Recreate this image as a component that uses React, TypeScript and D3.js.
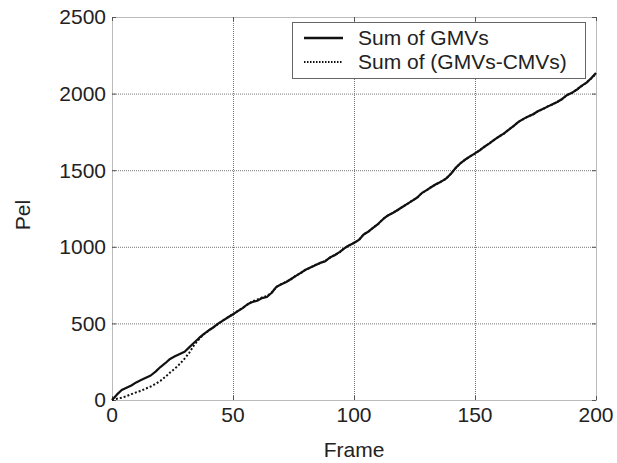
import React, { useRef, useEffect } from 'react';
import * as d3 from 'd3';

// frame numbers (every 2nd frame) and accumulated values in pel
const frames = d3.range(0, 201, 2);

const sumGMV = [
  0, 35, 65, 80, 95, 115, 130, 145, 160, 185,
  215, 240, 268, 285, 300, 315, 345, 375, 405, 432,
  455, 475, 500, 520, 540, 560, 580, 600, 625, 640,
  648, 665, 672, 700, 740, 755, 770, 790, 810, 830,
  850, 865, 880, 895, 905, 930, 945, 965, 990, 1010,
  1025, 1045, 1080, 1100, 1125, 1150, 1180, 1205, 1220, 1240,
  1260, 1280, 1300, 1320, 1350, 1370, 1390, 1410, 1425, 1445,
  1475, 1515, 1545, 1570, 1590, 1610, 1630, 1655, 1675, 1700,
  1720, 1740, 1765, 1790, 1815, 1835, 1850, 1865, 1885, 1900,
  1915, 1930, 1945, 1965, 1990, 2005, 2025, 2050, 2070, 2100,
  2135,
];

const sumGMVminusCMV = [
  0, 8, 15, 25, 38, 50, 60, 75, 88, 105,
  125, 150, 180, 205, 235, 270, 310, 360, 398, 430,
  453, 476, 498, 521, 541, 559, 582, 602, 623, 645,
  655, 670, 678, 702, 738, 756, 772, 788, 812, 828,
  851, 864, 882, 893, 907, 928, 947, 963, 992, 1008,
  1027, 1043, 1082, 1098, 1127, 1148, 1182, 1203, 1222, 1238,
  1262, 1278, 1302, 1318, 1352, 1368, 1392, 1408, 1427, 1443,
  1477, 1513, 1547, 1568, 1592, 1608, 1632, 1653, 1677, 1698,
  1722, 1738, 1767, 1788, 1817, 1833, 1852, 1863, 1887, 1898,
  1917, 1928, 1947, 1963, 1992, 2003, 2027, 2048, 2072, 2098,
  2130,
];

const xTicks = [0, 50, 100, 150, 200];
const yTicks = [0, 500, 1000, 1500, 2000, 2500];
const legendLabels = ['Sum of GMVs', 'Sum of (GMVs-CMVs)'];

export default function App() {
  const svgRef = useRef<SVGSVGElement>(null);
  const width = 617;
  const height = 463;
  const margin = { top: 17, right: 21, bottom: 63, left: 112 };
  const font = 'Liberation Sans, Arial, Helvetica, sans-serif';

  useEffect(() => {
    const svg = d3.select(svgRef.current);
    svg.selectAll('*').remove();

    const x = d3.scaleLinear().domain([0, 200]).range([margin.left, width - margin.right]);
    const y = d3.scaleLinear().domain([0, 2500]).range([height - margin.bottom, margin.top]);
    const [x0, x1] = x.range();
    const [y0, y1] = y.range();

    const gridStyle = (sel: any) => sel
      .attr('stroke', '#777')
      .attr('stroke-width', 1)
      .attr('stroke-dasharray', '1,1');

    // grid lines
    svg.append('g').selectAll('line')
      .data(xTicks.slice(1, -1))
      .join('line')
      .attr('x1', d => x(d) + 0.5).attr('x2', d => x(d) + 0.5)
      .attr('y1', y1).attr('y2', y0)
      .call(gridStyle);

    svg.append('g').selectAll('line')
      .data(yTicks.slice(1, -1))
      .join('line')
      .attr('x1', x0).attr('x2', x1)
      .attr('y1', d => y(d) + 0.5).attr('y2', d => y(d) + 0.5)
      .call(gridStyle);

    // plot frame
    svg.append('rect')
      .attr('x', x0 + 0.5).attr('y', y1 + 0.5)
      .attr('width', x1 - x0).attr('height', y0 - y1)
      .attr('fill', 'none')
      .call(gridStyle);

    // tick marks pointing inward
    const tk = svg.append('g').attr('stroke', '#555').attr('stroke-width', 1);
    xTicks.forEach(t => {
      tk.append('line').attr('x1', x(t) + 0.5).attr('x2', x(t) + 0.5).attr('y1', y0).attr('y2', y0 - 4);
      tk.append('line').attr('x1', x(t) + 0.5).attr('x2', x(t) + 0.5).attr('y1', y1).attr('y2', y1 + 4);
    });
    yTicks.forEach(t => {
      tk.append('line').attr('x1', x0).attr('x2', x0 + 4).attr('y1', y(t) + 0.5).attr('y2', y(t) + 0.5);
      tk.append('line').attr('x1', x1 - 4).attr('x2', x1).attr('y1', y(t) + 0.5).attr('y2', y(t) + 0.5);
    });

    // tick labels
    svg.append('g').selectAll('text')
      .data(xTicks)
      .join('text')
      .attr('x', d => x(d))
      .attr('y', y0 + 15)
      .attr('dy', '0.35em')
      .attr('text-anchor', 'middle')
      .attr('font-family', font)
      .attr('font-size', 21)
      .attr('fill', '#222')
      .text(d => d);

    svg.append('g').selectAll('text')
      .data(yTicks)
      .join('text')
      .attr('x', x0 - 6)
      .attr('y', d => y(d))
      .attr('dy', '0.35em')
      .attr('text-anchor', 'end')
      .attr('font-family', font)
      .attr('font-size', 21)
      .attr('fill', '#222')
      .text(d => d);

    // axis titles
    svg.append('text')
      .attr('x', (x0 + x1) / 2)
      .attr('y', 457)
      .attr('text-anchor', 'middle')
      .attr('font-family', font)
      .attr('font-size', 21)
      .attr('fill', '#222')
      .text('Frame');

    svg.append('text')
      .attr('transform', `translate(30,215) rotate(-90)`)
      .attr('text-anchor', 'middle')
      .attr('font-family', font)
      .attr('font-size', 21)
      .attr('fill', '#222')
      .text('Pel');

    // series
    const line = d3.line<number>()
      .x((_, i) => x(frames[i]))
      .y(d => y(d));

    svg.append('path')
      .datum(sumGMVminusCMV)
      .attr('fill', 'none')
      .attr('stroke', '#111')
      .attr('stroke-width', 2)
      .attr('stroke-dasharray', '2,2')
      .attr('d', line);

    svg.append('path')
      .datum(sumGMV)
      .attr('fill', 'none')
      .attr('stroke', '#111')
      .attr('stroke-width', 2.2)
      .attr('stroke-linejoin', 'round')
      .attr('d', line);

    // legend
    const lg = svg.append('g').attr('transform', `translate(292,22)`);
    lg.append('rect')
      .attr('x', 0.5).attr('y', 0.5)
      .attr('width', 293).attr('height', 56)
      .attr('fill', 'white')
      .attr('stroke', '#666')
      .attr('stroke-width', 1);

    legendLabels.forEach((label, i) => {
      const cy = 16 + i * 24;
      lg.append('line')
        .attr('x1', 12).attr('x2', 51)
        .attr('y1', cy).attr('y2', cy)
        .attr('stroke', '#111')
        .attr('stroke-width', i === 0 ? 2.5 : 2)
        .attr('stroke-dasharray', i === 0 ? null : '1.5,1.5');
      lg.append('text')
        .attr('x', 66)
        .attr('y', cy)
        .attr('dy', '0.35em')
        .attr('font-family', font)
        .attr('font-size', 21)
        .attr('fill', '#222')
        .text(label);
    });
  }, []);

  return (
    <svg
      ref={svgRef}
      width={width}
      height={height}
      style={{ position: 'absolute', left: 0, top: 0, background: 'white' }}
    />
  );
}
